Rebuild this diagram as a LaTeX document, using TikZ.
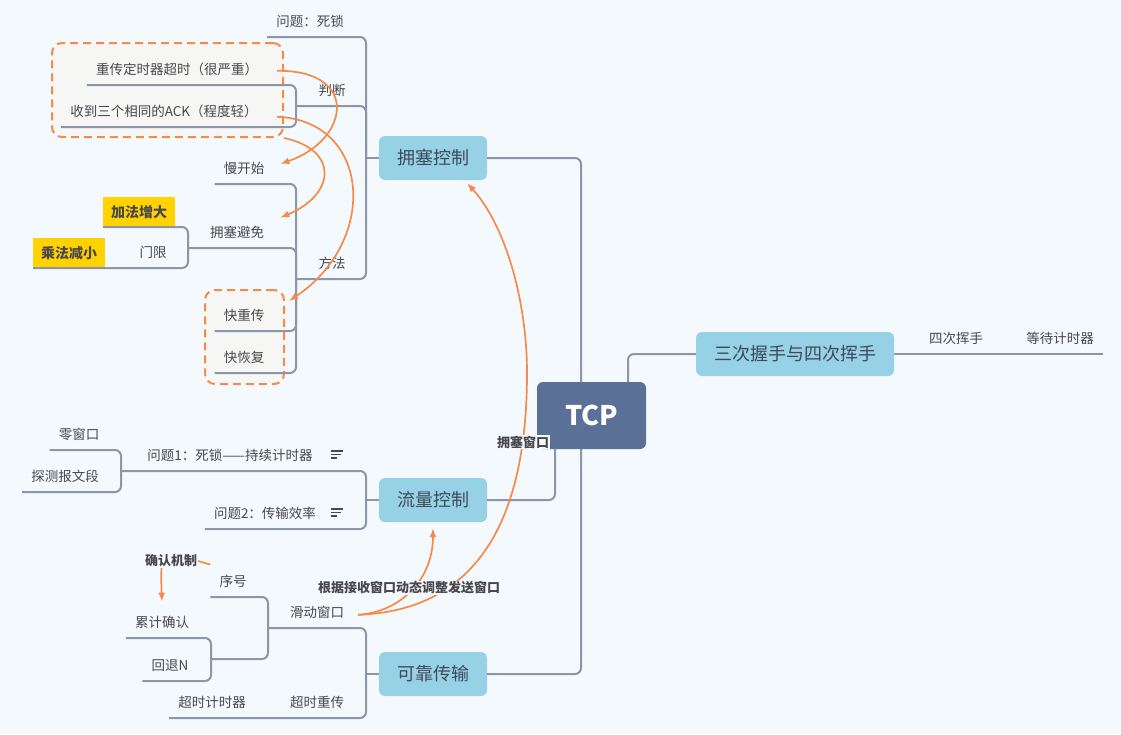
\documentclass[tikz,border=0pt]{standalone}
\usepackage{fontspec}
\setmainfont{Noto Sans CJK SC}
\usetikzlibrary{arrows.meta}
\definecolor{bgc}{RGB}{244,249,253}
\definecolor{lgrey}{RGB}{140,150,168}
\definecolor{tblue}{RGB}{150,209,230}
\definecolor{tcpc}{RGB}{90,112,151}
\definecolor{org}{RGB}{245,138,74}
\definecolor{yel}{RGB}{255,210,0}
\definecolor{boxg}{RGB}{246,246,245}
\definecolor{txt}{RGB}{72,72,76}
\definecolor{ttxt}{RGB}{62,74,90}

\begin{document}
\begin{tikzpicture}[x=1pt,y=-1pt,
	lab/.style={font=\fontsize{13.5}{16}\selectfont, text=txt, inner xsep=9pt, inner ysep=9pt, text height=13pt, text depth=1pt, anchor=south},
	topic/.style={rounded corners=6pt, fill=tblue, text=ttxt, font=\fontsize{18}{20}\selectfont, minimum height=44pt, inner sep=0pt},
	tcpbox/.style={rounded corners=6pt, fill=tcpc, text=white, font=\fontsize{27}{30}\selectfont\bfseries, minimum width=109pt, minimum height=67pt},
	hl/.style={fill=yel, text=txt, font=\fontsize{14}{16}\selectfont\bfseries, anchor=south west, minimum width=72pt, minimum height=30pt, inner sep=0pt},
	rlab/.style={font=\fontsize{13}{15}\selectfont\bfseries, text=txt, inner sep=1pt},
	br/.style={draw=lgrey, line width=2pt, rounded corners=6pt},
	rel/.style={draw=org, line width=1.7pt, -{Latex[length=9pt,width=7pt]}},
	dbox/.style={draw=org, line width=2pt, dash pattern=on 8pt off 5pt, fill=boxg, rounded corners=10pt},
	notel/.style={draw=txt, line width=1.2pt}]
\fill[bgc] (0,0) rectangle (1121,734);

\node[dbox, minimum width=231pt, minimum height=94pt] (pdbox) at (167.5,90) {};
\node[dbox, minimum width=79pt, minimum height=94pt] (kbox) at (244.5,337) {};

\node[tcpbox] (tcp) at (591.5,415.5) {TCP};
\node[topic, minimum width=108pt] (yongse) at (433,158) {拥塞控制};
\node[topic, minimum width=108pt] (liuliang) at (433,500) {流量控制};
\node[topic, minimum width=108pt] (kekao) at (433,674) {可靠传输};
\node[topic, minimum width=198pt] (sanci) at (795,354) {三次握手与四次挥手};

\node[lab] (wenti) at (310,37) {问题：死锁};
\node[lab] (panduan) at (332,106) {判断};
\node[lab] (chongchuan) at (177,85) {重传定时器超时（很严重）};
\node[lab] (shoudao) at (164,127) {收到三个相同的ACK（程度轻）};
\node[lab] (fangfa) at (332,279) {方法};
\node[lab] (manks) at (244,184) {慢开始};
\node[lab] (yongbm) at (237,248) {拥塞避免};
\node[hl] (jiafa) at (103,227) {加法增大};
\node[hl] (chengfa) at (33,268) {乘法减小};
\node[lab] (menxian) at (153,268) {门限};
\node[lab] (kcc) at (244,331) {快重传};
\node[lab] (khf) at (244,373) {快恢复};

\node[lab] (wt1) at (230,471) {问题1：死锁——持续计时器};
\node[lab] (wt2) at (265,529) {问题2：传输效率};
\node[lab] (lingck) at (79,450) {零窗口};
\node[lab] (tance) at (65,492) {探测报文段};

\node[lab] (huadong) at (317,628) {滑动窗口};
\node[lab] (chaoshi) at (317,718) {超时重传};
\node[lab] (csjsq) at (212,718) {超时计时器};
\node[lab] (xuhao) at (233,597) {序号};
\node[lab] (leiji) at (162,638) {累计确认};
\node[lab] (huitui) at (170,681) {回退N};

\node[lab] (sici) at (956,354) {四次挥手};
\node[lab] (dengdai) at (1060,354) {等待计时器};

\coordinate (jy) at (366,158);
\coordinate (jpd) at (296,106);
\coordinate (jff) at (296,279);
\coordinate (jyb) at (188,248);
\coordinate (jl) at (366,500);
\coordinate (jw1) at (121,471);
\coordinate (jk) at (366,674);
\coordinate (jhd) at (268,628);
\coordinate (jlj) at (211,659);

\draw[br] ([xshift=-10.5pt]tcp.north) |- (yongse.east);
\draw[br] ([xshift=-10.5pt]tcp.south) |- (kekao.east);
\draw[br] ([xshift=-36.5pt]tcp.south) |- (liuliang.east);
\draw[br] ([xshift=36.5pt]tcp.north) |- (sanci.west);
\draw[br] (sanci.east) -- (dengdai.south east);

\draw[br] (yongse.west) -- (jy);
\draw[br] (jy) |- (wenti.south west);
\draw[br] (jy) |- (jpd);
\draw[br] (jy) |- (jff);
\draw[br] (jpd) |- (chongchuan.south west);
\draw[br] (jpd) |- (shoudao.south west);
\draw[br] (jff) |- (manks.south west);
\draw[br] (jff) |- (jyb);
\draw[br] (jff) |- (kcc.south west);
\draw[br] (jff) |- (khf.south west);
\draw[br] (jyb) |- (jiafa.south west);
\draw[br] (jyb) |- (chengfa.south west);

\draw[br] (liuliang.west) -- (jl);
\draw[br] (jl) |- (jw1);
\draw[br] (jl) |- (wt2.south west);
\draw[br] (jw1) |- (lingck.south west);
\draw[br] (jw1) |- (tance.south west);

\draw[br] (kekao.west) -- (jk);
\draw[br] (jk) |- (jhd);
\draw[br] (jk) |- (csjsq.south west);
\draw[br] (jhd) |- (xuhao.south west);
\draw[br] (jhd) |- (jlj);
\draw[br] (jlj) |- (leiji.south west);
\draw[br] (jlj) |- (huitui.south west);

\draw[notel] (331,451) -- ++(12,0) (331,454.5) -- ++(10,0) (331,458) -- ++(6,0);
\draw[notel] (331,509) -- ++(12,0) (331,512.5) -- ++(10,0) (331,516) -- ++(6,0);

\draw[rel] ([xshift=10pt,yshift=-2pt]chongchuan.east) .. controls (360,70) and (350,140) .. ([xshift=7pt,yshift=4pt]manks.east);
\draw[rel] (pdbox.south east) .. controls (340,150) and (335,195) .. ([xshift=7pt,yshift=-2pt]yongbm.north east);
\draw[rel] ([xshift=10pt,yshift=-6pt]shoudao.east) .. controls (370,120) and (380,240) .. ([xshift=4pt,yshift=-12pt]kbox.north east);
\draw[rel] ([xshift=5pt,yshift=-3pt]huadong.east) .. controls (400,612) and (433,580) .. ([yshift=-6pt]liuliang.south);
\draw[rel] ([xshift=5pt,yshift=-3pt]huadong.east) .. controls (490,610) and (527,500) .. (527,373) .. controls (527,300) and (505,225) .. ([xshift=-20pt,yshift=-3pt]yongse.south east);
\draw[rel] (xuhao.north west) .. controls (160,550) .. ([yshift=4pt]leiji.north);

\node[rlab, fill=bgc] (tiaozheng) at (409,588) {根据接收窗口动态调整发送窗口};
\node[rlab, fill=bgc] (yswin) at (523,442) {拥塞窗口};
\node[rlab, fill=bgc] (qrjz) at (171,561) {确认机制};
\end{tikzpicture}
\end{document}
